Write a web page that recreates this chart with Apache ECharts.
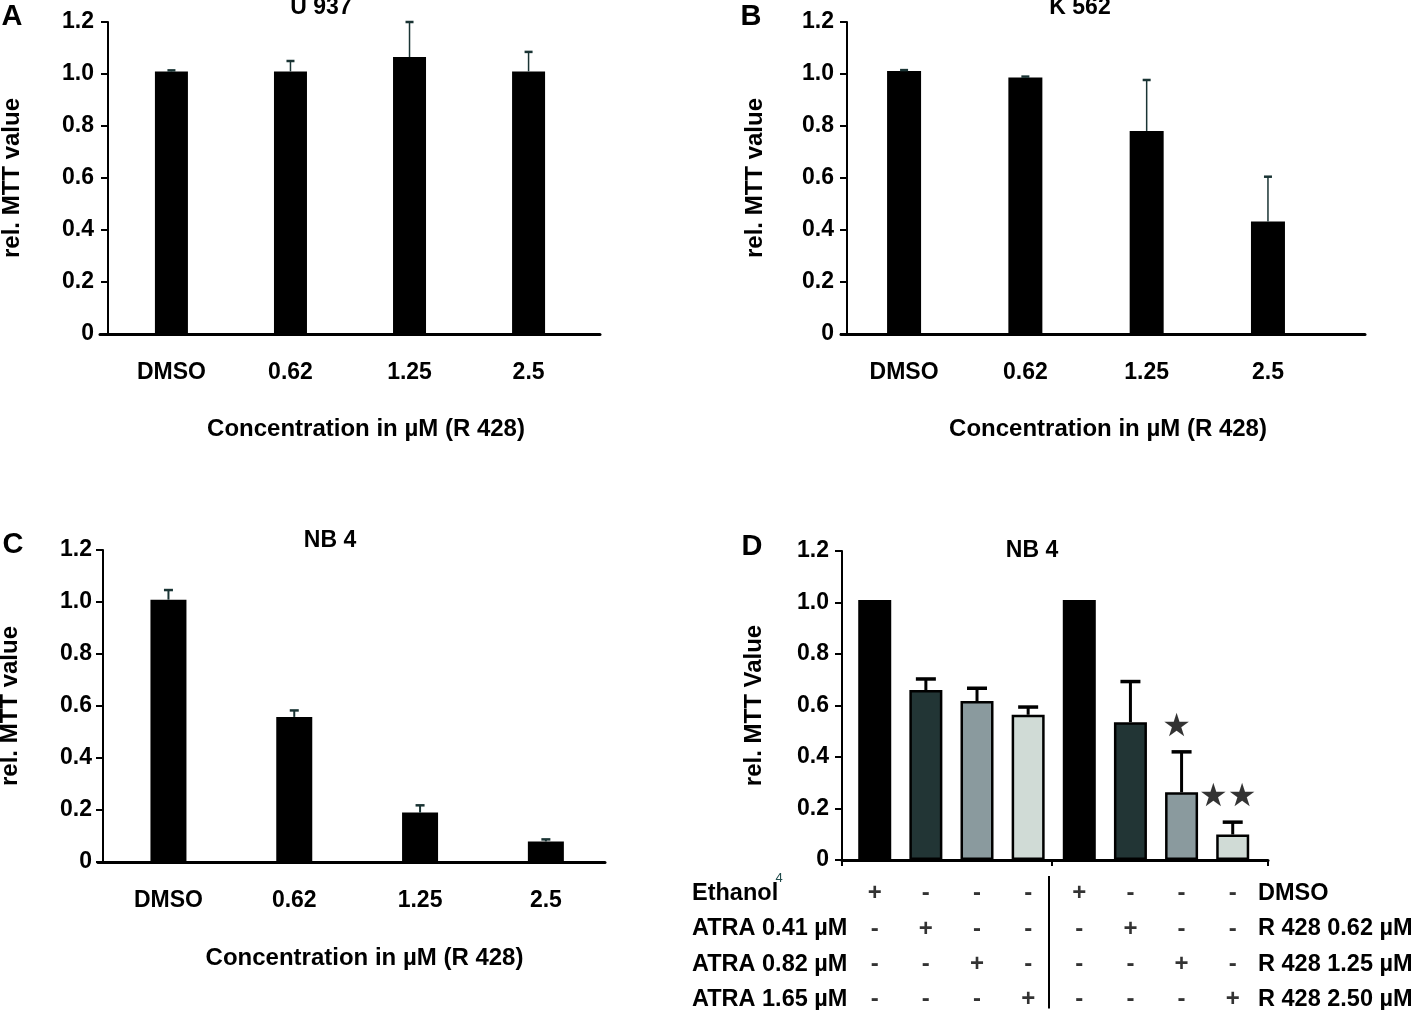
<!DOCTYPE html>
<html><head><meta charset="utf-8">
<script src="https://cdn.jsdelivr.net/npm/echarts@6/dist/echarts.min.js"></script>
<style>html,body{margin:0;padding:0;background:#fff}#c{width:1418px;height:1010px}</style>
</head><body><div id="c"></div>
<script>
// ---------- data ----------
const categories = ['DMSO', '0.62', '1.25', '2.5'];
const yTickLabels = ['0', '0.2', '0.4', '0.6', '0.8', '1.0', '1.2'];
const xAxisName = 'Concentration in µM (R 428)';

const u937Mean = [1.01, 1.01, 1.065, 1.01];
const u937Err  = [0.004, 0.04, 0.135, 0.075];
const k562Mean = [1.012, 0.987, 0.781, 0.433];
const k562Err  = [0.003, 0.003, 0.196, 0.172];
const nb4Mean  = [1.009, 0.558, 0.19, 0.079];
const nb4Err   = [0.037, 0.025, 0.028, 0.008];

const dMean   = [1.01, 0.66, 0.617, 0.564, 1.01, 0.535, 0.263, 0.099];
const dErr    = [0, 0.043, 0.05, 0.03, 0, 0.158, 0.157, 0.048];
const dColors = ['#000000', '#223535', '#8a9a9e', '#d0dbd6', '#000000', '#223535', '#8a9a9e', '#d0dbd6'];
const dStars  = ['', '', '', '', '', '', '★', '★★'];

const tableLeft  = ['Ethanol', 'ATRA 0.41 µM', 'ATRA 0.82 µM', 'ATRA 1.65 µM'];
const tableRight = ['DMSO', 'R 428 0.62 µM', 'R 428 1.25 µM', 'R 428 2.50 µM'];
const tableSigns = [
  ['+', '-', '-', '-', '+', '-', '-', '-'],
  ['-', '+', '-', '-', '-', '+', '-', '-'],
  ['-', '-', '+', '-', '-', '-', '+', '-'],
  ['-', '-', '-', '+', '-', '-', '-', '+']
];

// ---------- helpers ----------
const FONT = '"Liberation Sans", Arial, Helvetica, sans-serif';
const bold = (size) => ({ fontFamily: FONT, fontWeight: 'bold', fontSize: size, color: '#000' });

function xAxisABC(gi, min, max, nameGap, padLeft) {
  return {
    type: 'value', gridIndex: gi, min: min, max: max,
    splitLine: { show: false },
    axisLine: { show: true, onZero: false, lineStyle: { color: '#000', width: 3 } },
    axisTick: { show: false },
    axisLabel: Object.assign({ show: true, customValues: [0, 1, 2, 3], formatter: (v) => categories[Math.round(v)], margin: 27 }, bold(23)),
    name: xAxisName, nameLocation: 'middle', nameGap: nameGap,
    nameTextStyle: Object.assign({ padding: [0, 0, 0, padLeft] }, bold(24))
  };
}
function yAxisFor(gi, offset, margin, name, nameGap) {
  return {
    type: 'value', gridIndex: gi, min: 0, max: 1.2, interval: 0.2, offset: offset,
    splitLine: { show: false },
    axisLine: { show: true, onZero: false, lineStyle: { color: '#000', width: 2 } },
    axisTick: { show: true, length: 7, lineStyle: { color: '#000', width: 2 } },
    axisLabel: Object.assign({ formatter: (v) => yTickLabels[Math.round(v / 0.2)], margin: margin }, bold(23)),
    name: name, nameLocation: 'middle', nameGap: nameGap,
    nameTextStyle: bold(24)
  };
}
function tableAxis(labels, position, margin) {
  return {
    type: 'value', gridIndex: 4, inverse: true, min: -0.5, max: 3.25, position: position,
    axisLine: { show: false }, axisTick: { show: false }, splitLine: { show: false },
    axisLabel: Object.assign({ customValues: [0, 1, 2, 3], formatter: (v) => labels[Math.round(v)], align: 'left', margin: margin }, bold(23.5))
  };
}
function barSeries(gi, means, width) {
  return {
    type: 'bar', xAxisIndex: gi, yAxisIndex: gi, barWidth: width,
    data: means.map((v, i) => [i, v]),
    itemStyle: { color: '#000' }, silent: true, z: 2
  };
}
function errSeries(gi, means, errs, lw, capW, capLW, color) {
  return {
    type: 'custom', xAxisIndex: gi, yAxisIndex: gi, clip: false, silent: true, z: 3,
    data: means.map((v, i) => [i, v, errs[i]]),
    encode: { x: 0, y: 1 },
    renderItem: function (params, api) {
      const x = api.value(0), m = api.value(1), e = api.value(2);
      if (!e) return null;
      const p0 = api.coord([x, m]);
      const p1 = api.coord([x, m + e]);
      return {
        type: 'group', children: [
          { type: 'line', shape: { x1: p0[0], y1: p0[1], x2: p1[0], y2: p1[1] }, style: { stroke: color, lineWidth: lw } },
          { type: 'line', shape: { x1: p1[0] - capW / 2, y1: p1[1], x2: p1[0] + capW / 2, y2: p1[1] }, style: { stroke: color, lineWidth: capLW } }
        ]
      };
    }
  };
}

const D_MIN = -0.64, D_MAX = 7.69;

// table scatter data
const tableData = [];
tableSigns.forEach((row, r) => row.forEach((s, c) => tableData.push([c, r, s])));

const letter = (t, x, y) => ({ type: 'text', x: x, y: y, style: { text: t, align: 'center', verticalAlign: 'middle', font: 'bold 29px ' + FONT, fill: '#000' } });
const title = (t, x, y) => ({ type: 'text', x: x, y: y, style: { text: t, align: 'center', verticalAlign: 'middle', font: 'bold 23px ' + FONT, fill: '#000' } });
const gridBox = (l, t, w, h) => ({ left: l, top: t, width: w, height: h, outerBoundsMode: 'none', containLabel: false });

const option = {
  animation: false,
  backgroundColor: '#fff',
  textStyle: { fontFamily: FONT },
  grid: [
    gridBox(100, 22, 500, 312),
    gridBox(841, 22, 524, 312),
    gridBox(98, 550, 507, 312),
    gridBox(842, 551, 426, 309),
    gridBox(842, 876, 426, 132.5)
  ],
  xAxis: [
    xAxisABC(0, -0.6, 3.6, 83, 32),
    xAxisABC(1, -0.52, 3.8, 83, 10),
    xAxisABC(2, -0.56, 3.47, 84, 26),
    {
      type: 'value', gridIndex: 3, min: D_MIN, max: D_MAX,
      splitLine: { show: false },
      axisLine: { show: true, onZero: false, lineStyle: { color: '#000', width: 3 } },
      axisTick: { show: true, customValues: [D_MIN, 3.47, D_MAX], length: 6, lineStyle: { color: '#000', width: 2 } },
      axisLabel: { show: false }
    },
    { type: 'value', gridIndex: 4, min: D_MIN, max: D_MAX, show: false }
  ],
  yAxis: [
    yAxisFor(0, -8, 14, 'rel. MTT value', 84),
    yAxisFor(1, -6, 13, 'rel. MTT value', 80),
    yAxisFor(2, -5, 11, 'rel. MTT value', 81),
    yAxisFor(3, 0, 13, 'rel. MTT Value', 76),
    tableAxis(tableLeft, 'left', 150),
    tableAxis(tableRight, 'right', -10)
  ],
  series: [
    barSeries(0, u937Mean, 33),
    errSeries(0, u937Mean, u937Err, 1.5, 8, 2.5, '#1a3434'),
    barSeries(1, k562Mean, 34),
    errSeries(1, k562Mean, k562Err, 1.5, 8, 2.5, '#1a3434'),
    barSeries(2, nb4Mean, 36),
    errSeries(2, nb4Mean, nb4Err, 2, 9, 2.5, '#1a3434'),
    {
      type: 'bar', xAxisIndex: 3, yAxisIndex: 3, barWidth: 33, silent: true, z: 2,
      data: dMean.map((v, i) => ({ value: [i, v], itemStyle: { color: dColors[i] } })),
      itemStyle: { borderColor: '#000', borderWidth: 2.5 }
    },
    errSeries(3, dMean, dErr, 3, 20, 3.5, '#000'),
    {
      type: 'scatter', xAxisIndex: 3, yAxisIndex: 3, silent: true, z: 4,
      symbolSize: 1, itemStyle: { color: 'rgba(0,0,0,0)' },
      data: dMean.map((v, i) => [i, v + dErr[i], dStars[i]]).filter(d => d[2] !== ''),
      label: {
        show: true, position: 'top', distance: 8, formatter: (p) => p.data[2],
        fontFamily: '"DejaVu Sans", sans-serif', fontSize: 32, color: '#000', offset: [-5, 0]
      }
    },
    {
      type: 'scatter', xAxisIndex: 4, yAxisIndex: 5, silent: true,
      symbolSize: 1, itemStyle: { color: 'rgba(0,0,0,0)' },
      data: tableData,
      label: Object.assign({ show: true, position: 'inside', formatter: (p) => p.data[2] }, bold(24)),
      markLine: {
        silent: true, symbol: ['none', 'none'], label: { show: false },
        lineStyle: { color: '#000', width: 2, type: 'solid' },
        data: [{ xAxis: 3.4 }]
      }
    }
  ],
  graphic: [
    letter('A', 12, 17), letter('B', 751, 17), letter('C', 13, 545), letter('D', 752, 547),
    title('U 937', 321, 8), title('K 562', 1080, 8), title('NB 4', 330, 541), title('NB 4', 1032, 551),
    { type: 'text', x: 779, y: 878, style: { text: '4', align: 'center', verticalAlign: 'middle', font: '13px ' + FONT, fill: '#1f4a4a' } }
  ]
};
const chart = echarts.init(document.getElementById('c'));
chart.setOption(option);
</script>
</body></html>
